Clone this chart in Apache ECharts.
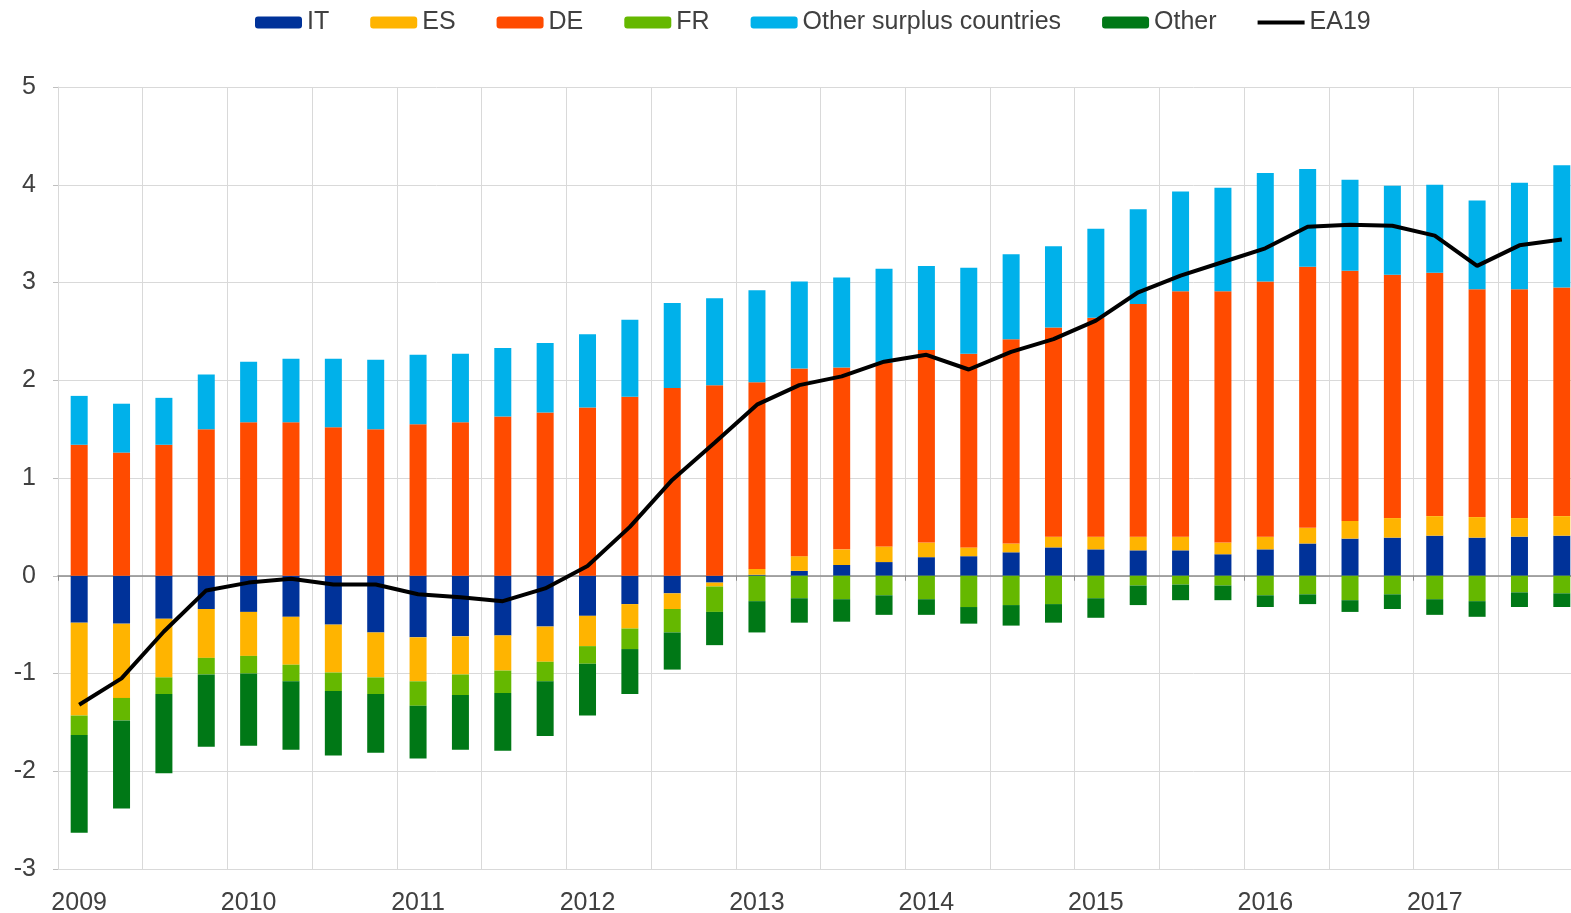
<!DOCTYPE html>
<html>
<head>
<meta charset="utf-8">
<title>EA19 current account</title>
<script src="https://cdn.jsdelivr.net/npm/echarts@6/dist/echarts.min.js"></script>
<style>
  html, body { margin: 0; padding: 0; background: #fff; }
  #chart { width: 1571px; height: 913px; }
</style>
</head>
<body>
<div id="chart"></div>
<script>
const quarters = [
  '2009Q1', '2009Q2', '2009Q3', '2009Q4',
  '2010Q1', '2010Q2', '2010Q3', '2010Q4',
  '2011Q1', '2011Q2', '2011Q3', '2011Q4',
  '2012Q1', '2012Q2', '2012Q3', '2012Q4',
  '2013Q1', '2013Q2', '2013Q3', '2013Q4',
  '2014Q1', '2014Q2', '2014Q3', '2014Q4',
  '2015Q1', '2015Q2', '2015Q3', '2015Q4',
  '2016Q1', '2016Q2', '2016Q3', '2016Q4',
  '2017Q1', '2017Q2', '2017Q3', '2017Q4'
];

const itData = [-0.48, -0.49, -0.44, -0.34, -0.37, -0.42, -0.50, -0.58, -0.63, -0.62, -0.61, -0.52,
  -0.41, -0.29, -0.18, -0.07, 0.01, 0.05, 0.11, 0.14, 0.19, 0.20, 0.24, 0.29,
  0.27, 0.26, 0.26, 0.22, 0.27, 0.33, 0.38, 0.39, 0.41, 0.39, 0.40, 0.41];
const esData = [-0.95, -0.76, -0.60, -0.50, -0.45, -0.49, -0.49, -0.46, -0.45, -0.39, -0.36, -0.36,
  -0.31, -0.25, -0.16, -0.04, 0.06, 0.15, 0.16, 0.16, 0.15, 0.09, 0.09, 0.11,
  0.13, 0.14, 0.14, 0.12, 0.13, 0.16, 0.18, 0.20, 0.20, 0.21, 0.19, 0.20];
const deData = [1.34, 1.26, 1.34, 1.50, 1.57, 1.57, 1.52, 1.50, 1.55, 1.57, 1.63, 1.67,
  1.72, 1.83, 1.92, 1.95, 1.91, 1.92, 1.86, 1.88, 1.97, 1.98, 2.09, 2.14,
  2.24, 2.38, 2.51, 2.57, 2.61, 2.67, 2.56, 2.49, 2.49, 2.33, 2.34, 2.34];
const frData = [-0.20, -0.23, -0.17, -0.17, -0.18, -0.17, -0.19, -0.17, -0.25, -0.21, -0.23, -0.20,
  -0.18, -0.21, -0.24, -0.26, -0.26, -0.23, -0.24, -0.20, -0.24, -0.32, -0.30, -0.29,
  -0.23, -0.10, -0.09, -0.10, -0.20, -0.19, -0.25, -0.19, -0.24, -0.26, -0.17, -0.18];
const surplusData = [0.50, 0.50, 0.48, 0.56, 0.62, 0.65, 0.70, 0.71, 0.71, 0.70, 0.70, 0.71,
  0.75, 0.79, 0.87, 0.89, 0.94, 0.89, 0.92, 0.96, 0.86, 0.88, 0.87, 0.83,
  0.91, 0.97, 1.02, 1.06, 1.11, 1.00, 0.93, 0.91, 0.90, 0.91, 1.09, 1.25];
const otherData = [-1.00, -0.90, -0.81, -0.74, -0.74, -0.70, -0.66, -0.60, -0.54, -0.56, -0.59, -0.56,
  -0.53, -0.46, -0.38, -0.34, -0.32, -0.25, -0.23, -0.20, -0.16, -0.17, -0.21, -0.19,
  -0.20, -0.20, -0.16, -0.15, -0.12, -0.10, -0.12, -0.15, -0.16, -0.16, -0.15, -0.14];
const ea19Data = [-1.32, -1.05, -0.57, -0.15, -0.07, -0.03, -0.09, -0.09, -0.19, -0.22, -0.26, -0.13,
  0.10, 0.50, 0.98, 1.36, 1.75, 1.95, 2.04, 2.19, 2.26, 2.11, 2.29, 2.42,
  2.61, 2.90, 3.07, 3.21, 3.35, 3.57, 3.59, 3.58, 3.48, 3.17, 3.38, 3.44];

const font = 'Liberation Sans, Arial, sans-serif';
const textColor = '#404040';

function bar(name, data, color) {
  return {
    name: name,
    type: 'bar',
    stack: 'total',
    data: data,
    barWidth: 17,
    itemStyle: { color: color }
  };
}

const chart = echarts.init(document.getElementById('chart'), null, { renderer: 'canvas' });
chart.setOption({
  animation: false,
  textStyle: { fontFamily: font },
  legend: {
    top: 5,
    left: 250,
    itemWidth: 47,
    itemHeight: 12,
    itemGap: 41,
    textStyle: { color: textColor, fontSize: 25, fontFamily: font },
    data: ['IT', 'ES', 'DE', 'FR', 'Other surplus countries', 'Other',
      { name: 'EA19', icon: 'path://M0,0L47,0L47,4L0,4Z' }]
  },
  // plot runs past the right edge, like the source image which is cropped there
  grid: {
    left: 58,
    width: 1525,
    top: 87,
    bottom: 44,
    outerBoundsMode: 'none'
  },
  xAxis: [
    {
      type: 'category',
      data: quarters,
      position: 'bottom',
      axisLine: { onZero: false, lineStyle: { color: '#d9d9d9' } },
      axisTick: { show: false },
      axisLabel: {
        interval: 3,
        margin: 22,
        color: textColor,
        fontSize: 25,
        fontFamily: font,
        formatter: v => v.slice(0, 4)
      },
      splitLine: { show: true, interval: 1, lineStyle: { color: '#d9d9d9', width: 1 } }
    },
    {
      type: 'category',
      data: quarters,
      position: 'bottom',
      axisLine: { onZero: true, lineStyle: { color: '#8c8c8c', width: 1.5 } },
      axisTick: { show: true, interval: 3, length: 5, lineStyle: { color: '#8c8c8c' } },
      axisLabel: { show: false },
      splitLine: { show: false }
    }
  ],
  yAxis: {
    type: 'value',
    min: -3,
    max: 5,
    interval: 1,
    axisLine: { show: true, lineStyle: { color: '#d9d9d9' } },
    axisTick: { show: true, length: 5, lineStyle: { color: '#bfbfbf' } },
    axisLabel: { color: textColor, fontSize: 25, fontFamily: font, margin: 22 },
    splitLine: { show: true, lineStyle: { color: '#d9d9d9', width: 1 } }
  },
  series: [
    bar('IT', itData, '#003299'),
    bar('ES', esData, '#FFB400'),
    bar('DE', deData, '#FF4B00'),
    bar('FR', frData, '#65B800'),
    bar('Other surplus countries', surplusData, '#00B1EA'),
    bar('Other', otherData, '#007816'),
    {
      name: 'EA19',
      type: 'line',
      data: ea19Data,
      symbol: 'none',
      z: 5,
      lineStyle: { color: '#000000', width: 4 },
      itemStyle: { color: '#000000' }
    }
  ]
});
</script>
</body>
</html>
